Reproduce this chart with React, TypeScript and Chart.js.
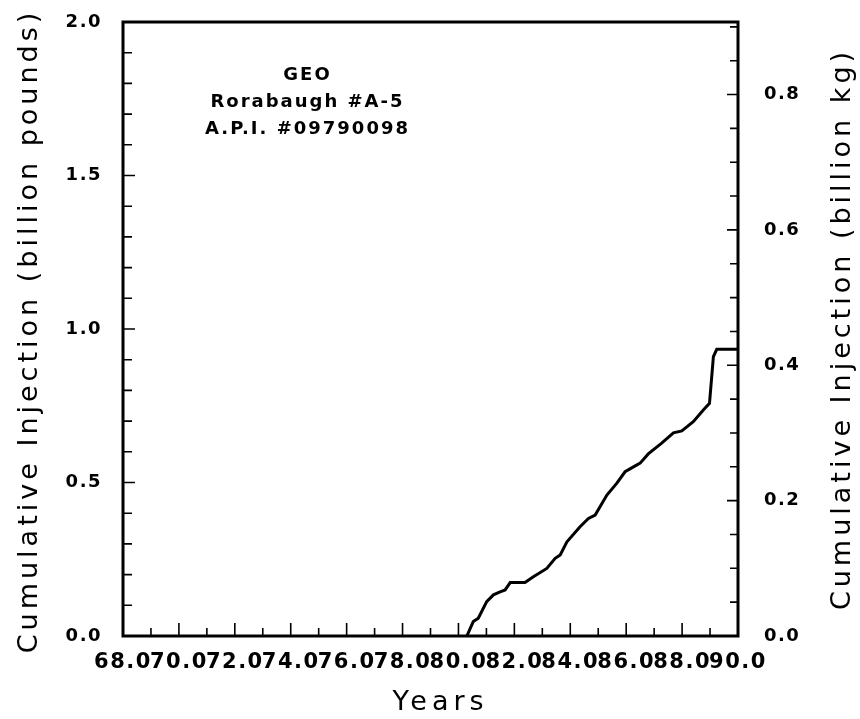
import React, { useEffect, useRef } from "react";
import { Chart, registerables } from "chart.js";

Chart.register(...registerables);

// Years (decimal) and cumulative injection (billion pounds)
const years = [80.3, 80.53, 80.71, 81.01, 81.25, 81.49, 81.67, 81.85, 82.38, 82.68, 83.16, 83.46, 83.64, 83.88, 84.35, 84.65, 84.89, 85.31, 85.66, 85.96, 86.26, 86.5, 86.79, 87.27, 87.69, 87.99, 88.4, 88.76, 88.98, 89.12, 89.24, 90.0];
const injection = [0.0, 0.047, 0.058, 0.112, 0.134, 0.144, 0.15, 0.174, 0.174, 0.193, 0.22, 0.253, 0.264, 0.307, 0.356, 0.383, 0.394, 0.459, 0.497, 0.535, 0.551, 0.563, 0.593, 0.628, 0.662, 0.668, 0.698, 0.736, 0.758, 0.91, 0.934, 0.934];

const xRange = [68, 90];
const yRangeLb = [0, 2];
const LB_TO_KG = 0.45359237;
const annotationLines = ["GEO", "Rorabaugh #A-5", "A.P.I. #09790098"];
const xTitle = "Years";
const yTitle = "Cumulative Injection (billion pounds)";
const y2Title = "Cumulative Injection (billion kg)";

const FONT = "'DejaVu Sans', sans-serif";

const spacingPlugin = {
  id: "spacing",
  beforeDraw(chart: any) {
    chart.ctx.letterSpacing = "1.5px";
  },
  afterDraw(chart: any) {
    chart.ctx.letterSpacing = "0px";
  },
};

const frameAndTicks = {
  id: "frameAndTicks",
  afterDatasetsDraw(chart: any) {
    const { ctx, chartArea: a, scales } = chart;
    ctx.save();
    ctx.strokeStyle = "#000";
    ctx.lineWidth = 3;
    ctx.strokeRect(a.left, a.top, a.right - a.left, a.bottom - a.top);
    ctx.lineWidth = 1.6;
    ctx.beginPath();
    for (let v = xRange[0]; v <= xRange[1] + 1e-9; v += 1) {
      const px = scales.x.getPixelForValue(v);
      const len = (v - xRange[0]) % 2 === 0 ? 13 : 8;
      ctx.moveTo(px, a.bottom);
      ctx.lineTo(px, a.bottom - len);
    }
    for (let i = 0; i <= 20; i++) {
      const py = scales.y.getPixelForValue(i * 0.1);
      const len = i % 5 === 0 ? 12 : 9;
      ctx.moveTo(a.left, py);
      ctx.lineTo(a.left + len, py);
    }
    for (let i = 0; i * 0.05 <= yRangeLb[1] * LB_TO_KG; i++) {
      const py = scales.y2.getPixelForValue(i * 0.05);
      const len = i % 4 === 0 ? 11 : 8;
      ctx.moveTo(a.right, py);
      ctx.lineTo(a.right - len, py);
    }
    ctx.stroke();

    ctx.fillStyle = "#000";
    // annotation
    ctx.letterSpacing = "2px";
    ctx.font = `bold 18px ${FONT}`;
    ctx.textAlign = "center";
    ctx.textBaseline = "alphabetic";
    const cx = scales.x.getPixelForValue(74.6);
    const by = scales.y.getPixelForValue(1.81);
    annotationLines.forEach((t, i) => {
      ctx.fillText(t, cx, by + i * 27);
    });

    // axis titles
    ctx.letterSpacing = "4px";
    ctx.font = `27px ${FONT}`;
    const midY = (a.top + a.bottom) / 2;
    ctx.save();
    ctx.translate(37, midY + 2);
    ctx.rotate(-Math.PI / 2);
    ctx.fillText(yTitle, 0, 0);
    ctx.restore();
    ctx.save();
    ctx.translate(850, midY);
    ctx.rotate(-Math.PI / 2);
    ctx.fillText(y2Title, 0, 0);
    ctx.restore();
    ctx.letterSpacing = "5px";
    ctx.fillText(xTitle, (a.left + a.right) / 2 + 10, 710);
    ctx.restore();
  },
};

export default function App() {
  const ref = useRef<HTMLCanvasElement | null>(null);
  useEffect(() => {
    const tickFont = { family: FONT, size: 18, weight: "bold" as const };
    const chart = new Chart(ref.current!, {
      type: "line",
      data: {
        datasets: [
          {
            data: years.map((x, i) => ({ x, y: injection[i] })),
            borderColor: "#000",
            borderWidth: 3,
            pointRadius: 0,
            tension: 0,
            fill: false,
          },
        ],
      },
      options: {
        animation: false,
        responsive: false,
        layout: { padding: { top: 22, left: 0, right: 0, bottom: 0 } },
        plugins: { legend: { display: false }, tooltip: { enabled: false } },
        scales: {
          x: {
            type: "linear",
            position: "bottom",
            min: xRange[0],
            max: xRange[1],
            grid: { display: false },
            border: { display: false },
            ticks: {
              stepSize: 2,
              autoSkip: false,
              maxRotation: 0,
              padding: 6,
              color: "#000",
              font: { family: FONT, size: 21, weight: "bold" },
              callback: (v: any) => Number(v).toFixed(1),
            },
            afterFit: (s: any) => {
              s.height = 83;
              s.paddingLeft = 0;
              s.paddingRight = 0;
            },
          },
          y: {
            type: "linear",
            position: "left",
            min: yRangeLb[0],
            max: yRangeLb[1],
            grid: { display: false },
            border: { display: false },
            ticks: {
              stepSize: 0.5,
              padding: 13,
              color: "#000",
              font: tickFont,
              callback: (v: any) => Number(v).toFixed(1),
            },
            afterFit: (s: any) => {
              s.width = 123;
              s.paddingTop = 0;
              s.paddingBottom = 0;
            },
          },
          y2: {
            type: "linear",
            position: "right",
            min: yRangeLb[0] * LB_TO_KG,
            max: yRangeLb[1] * LB_TO_KG,
            grid: { display: false },
            border: { display: false },
            ticks: {
              stepSize: 0.2,
              includeBounds: false,
              padding: 18,
              color: "#000",
              font: tickFont,
              callback: (v: any) => Number(v).toFixed(1),
            },
            afterFit: (s: any) => {
              s.width = 122;
              s.paddingTop = 0;
              s.paddingBottom = 0;
            },
          },
        },
      },
      plugins: [spacingPlugin, frameAndTicks],
    });
    return () => chart.destroy();
  }, []);
  return (
    <div style={{ position: "absolute", left: 0, top: 0, width: 860, height: 719, background: "#fff" }}>
      <canvas ref={ref} width={860} height={719} />
    </div>
  );
}
